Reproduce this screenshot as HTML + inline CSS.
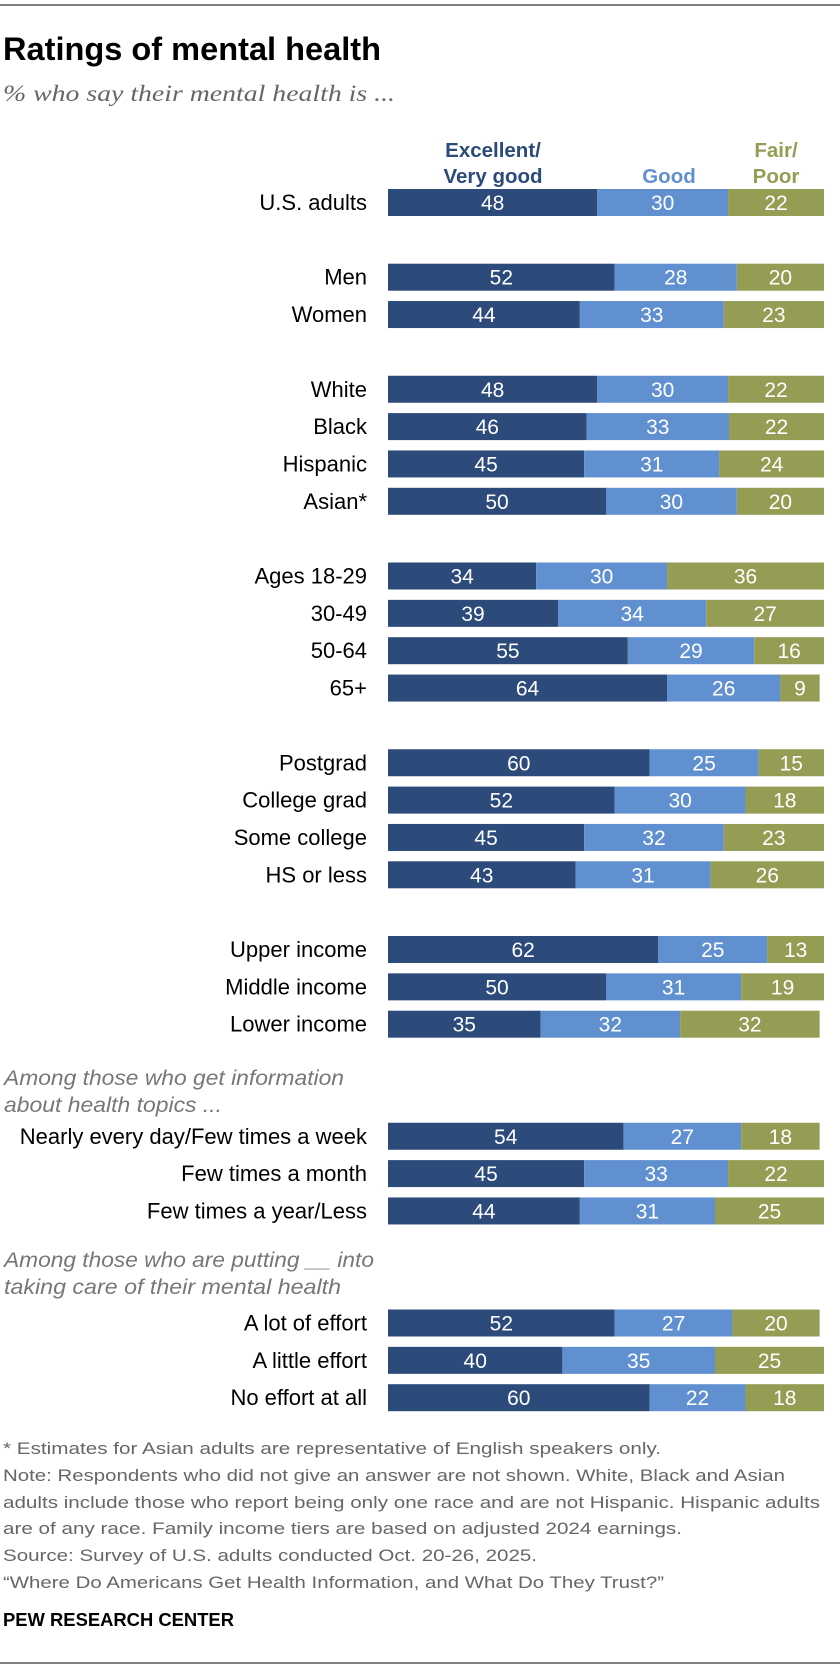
<!DOCTYPE html>
<html><head><meta charset="utf-8"><style>
html,body{margin:0;padding:0;background:#fff;}
svg{display:block;font-family:"Liberation Sans",sans-serif;}
</style></head><body>
<svg id="chart" width="840" height="1672" viewBox="0 0 840 1672" xmlns="http://www.w3.org/2000/svg">
<line x1="0" y1="5" x2="840" y2="5" stroke="#555" stroke-width="1.5"/>
<text x="3" y="60" font-size="32" font-weight="bold" fill="#000" textLength="378" lengthAdjust="spacingAndGlyphs">Ratings of mental health</text>
<text x="3" y="101" font-size="23" font-style="italic" fill="#666" font-family="Liberation Serif, serif" textLength="392" lengthAdjust="spacingAndGlyphs">% who say their mental health is ...</text>
<g font-size="20.5" font-weight="bold" text-anchor="middle">
<text x="493" y="157" fill="#2c4a7a">Excellent/</text>
<text x="493" y="183" fill="#2c4a7a">Very good</text>
<text x="669" y="183" fill="#6190d0">Good</text>
<text x="776" y="157" fill="#959c53">Fair/</text>
<text x="776" y="183" fill="#959c53">Poor</text>
</g>
<g font-size="21" font-style="italic" fill="#777">
<text x="4" y="1085" textLength="340" lengthAdjust="spacingAndGlyphs">Among those who get information</text>
<text x="4" y="1112" textLength="218" lengthAdjust="spacingAndGlyphs">about health topics ...</text>
</g>
<g font-size="21" font-style="italic" fill="#777">
<text x="4" y="1267" textLength="370" lengthAdjust="spacingAndGlyphs">Among those who are putting __ into</text>
<text x="4" y="1294" textLength="337" lengthAdjust="spacingAndGlyphs">taking care of their mental health</text>
</g>
<g id="bars"></g>
<g font-size="16.5" fill="#666">
<text x="3" y="1454" textLength="658" lengthAdjust="spacingAndGlyphs">* Estimates for Asian adults are representative of English speakers only.</text>
<text x="3" y="1481" textLength="782" lengthAdjust="spacingAndGlyphs">Note: Respondents who did not give an answer are not shown. White, Black and Asian</text>
<text x="3" y="1508" textLength="817" lengthAdjust="spacingAndGlyphs">adults include those who report being only one race and are not Hispanic. Hispanic adults</text>
<text x="3" y="1534" textLength="679" lengthAdjust="spacingAndGlyphs">are of any race. Family income tiers are based on adjusted 2024 earnings.</text>
<text x="3" y="1561" textLength="534" lengthAdjust="spacingAndGlyphs">Source: Survey of U.S. adults conducted Oct. 20-26, 2025.</text>
<text x="3" y="1588" textLength="661" lengthAdjust="spacingAndGlyphs">“Where Do Americans Get Health Information, and What Do They Trust?”</text>
</g>
<text x="3" y="1626" font-size="18" font-weight="bold" fill="#000" textLength="231" lengthAdjust="spacingAndGlyphs">PEW RESEARCH CENTER</text>
<line x1="0" y1="1663" x2="840" y2="1663" stroke="#555" stroke-width="1.5"/>
</svg>
<script>
const categories = ["U.S. adults","Men","Women","White","Black","Hispanic","Asian*","Ages 18-29","30-49","50-64","65+","Postgrad","College grad","Some college","HS or less","Upper income","Middle income","Lower income","Nearly every day/Few times a week","Few times a month","Few times a year/Less","A lot of effort","A little effort","No effort at all"];
const excellent = [48,52,44,48,46,45,50,34,39,55,64,60,52,45,43,62,50,35,54,45,44,52,40,60];
const good = [30,28,33,30,33,31,30,30,34,29,26,25,30,32,31,25,31,32,27,33,31,27,35,22];
const fair = [22,20,23,22,22,24,20,36,27,16,9,15,18,23,26,13,19,32,18,22,25,20,25,18];
const slots = [0,2,3,5,6,7,8,10,11,12,13,15,16,17,18,20,21,22,25,26,27,30,31,32];
const X0 = 388, UNIT = 4.36, TOP = 202.5, STEP = 37.35, BH = 27;
const xs = v => X0 + v * UNIT;
const ys = i => TOP + slots[i] * STEP;
const NS = "http://www.w3.org/2000/svg";
const g = document.getElementById("bars");
const colors = ["#2c4a7a","#6190d0","#959c53"];
const segNames = ["excellent","good","fair"];
categories.forEach((cat, i) => {
  const cy = ys(i);
  const row = document.createElementNS(NS, "g");
  
  
  const lab = document.createElementNS(NS, "text");
  
  
  lab.setAttribute("x", 367); lab.setAttribute("y", cy + 7.5);
  lab.setAttribute("text-anchor", "end"); lab.setAttribute("font-size", "22"); lab.setAttribute("fill", "#000");
  lab.textContent = cat;
  row.appendChild(lab);
  const vals = [excellent[i], good[i], fair[i]];
  const total = vals[0] + vals[1] + vals[2];
  const k100 = total > 100 ? 100 / total : 1;
  let acc = 0;
  vals.forEach((v, k) => {
    const w = v * k100;
    const r = document.createElementNS(NS, "rect");
    
    
    r.setAttribute("x", xs(acc)); r.setAttribute("y", cy - BH / 2);
    r.setAttribute("width", w * UNIT); r.setAttribute("height", BH);
    r.setAttribute("fill", colors[k]);
    row.appendChild(r);
    const t = document.createElementNS(NS, "text");
    
    
    t.setAttribute("x", xs(acc + w / 2)); t.setAttribute("y", cy + 7.5);
    t.setAttribute("text-anchor", "middle"); t.setAttribute("font-size", "21"); t.setAttribute("fill", "#fff");
    t.textContent = v;
    row.appendChild(t);
    acc += w;
  });
  g.appendChild(row);
});
</script>
</body></html>
